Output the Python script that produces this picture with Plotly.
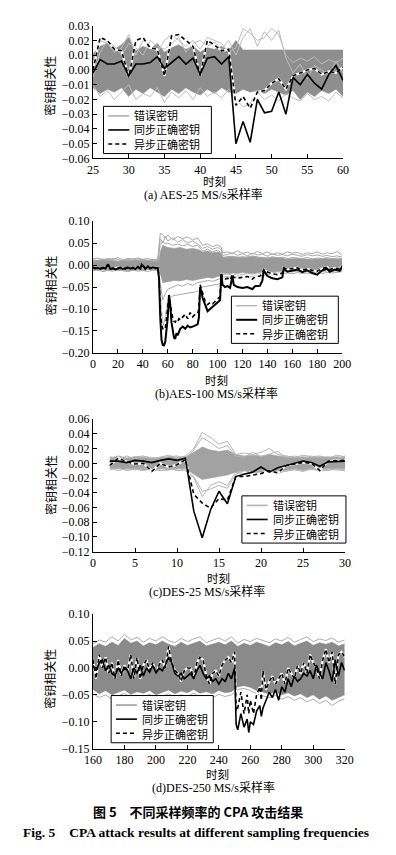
import plotly.graph_objects as go

W, H = 396, 855

# ---------------- Panel (a) AES-25 MS/s ----------------
a_time = [25, 26, 27, 28, 29, 30, 31, 32, 33, 34, 35, 36, 37, 38, 39, 40, 41, 42,
          43, 44, 45, 46, 47, 48, 49, 50, 51, 52, 53, 54, 55, 56, 57, 58, 59, 60]
a_sync = [-0.002, 0.007, 0.004, 0.004, 0.006, -0.004, 0.004, 0.004, 0.005, 0.009,
          0.001, 0.005, 0.009, 0.004, 0.008, -0.003, 0.008, 0.009, 0.004, 0.009,
          -0.050, -0.035, -0.049, -0.020, -0.029, -0.028, -0.015, -0.030, -0.005,
          -0.010, -0.003, -0.009, -0.013, -0.003, 0.003, -0.007]
a_async = [0.000, 0.022, 0.020, 0.014, 0.013, -0.005, 0.020, 0.022, 0.015, 0.014,
           -0.004, 0.023, 0.024, 0.020, 0.016, -0.004, 0.020, 0.017, 0.013, 0.014,
           -0.024, -0.018, -0.026, -0.015, -0.014, -0.009, -0.006, -0.013, -0.004,
           -0.002, 0.000, 0.001, -0.003, -0.001, -0.002, 0.002]
a_wrong_hi = [0.011, 0.016, 0.018, 0.014, 0.017, 0.022, 0.013, 0.016, 0.014, 0.018,
              0.012, 0.015, 0.017, 0.014, 0.016, 0.012, 0.015, 0.014, 0.016, 0.013,
              0.020, 0.0135, 0.0135, 0.0135, 0.0135, 0.0135, 0.0135, 0.0135, 0.0135,
              0.0135, 0.0135, 0.0135, 0.0135, 0.0135, 0.0135, 0.0135]
a_wrong_lo = [-0.012, -0.016, -0.013, -0.015, -0.012, -0.018, -0.013, -0.016, -0.012,
              -0.015, -0.018, -0.013, -0.016, -0.012, -0.015, -0.017, -0.013, -0.016,
              -0.012, -0.015, -0.016, -0.013, -0.015, -0.014, -0.016, -0.013, -0.015,
              -0.017, -0.014, -0.020, -0.015, -0.018, -0.014, -0.016, -0.013, -0.018]
a_wrong_1 = [0.005, 0.020, 0.018, 0.012, 0.015, 0.024, 0.010, 0.020, 0.016, 0.012,
             0.020, 0.024, 0.020, 0.016, 0.020, 0.014, 0.022, 0.020, 0.018, 0.012,
             0.015, 0.028, 0.025, 0.020, 0.022, 0.028, 0.024, 0.010, 0.005, 0.008,
             0.006, 0.009, 0.004, 0.007, 0.005, 0.008]
a_wrong_2 = [-0.005, 0.012, 0.020, 0.016, 0.010, 0.018, 0.015, 0.010, 0.020, 0.016,
             0.014, 0.018, 0.022, 0.012, 0.018, 0.020, 0.016, 0.019, 0.014, 0.020,
             0.010, 0.022, 0.028, 0.016, 0.026, 0.020, 0.027, 0.008, -0.002, 0.004,
             -0.006, 0.003, 0.000, -0.004, 0.006, -0.002]
a_wrong_3 = [-0.010, -0.018, -0.014, -0.020, -0.015, -0.010, -0.020, -0.016, -0.018,
             -0.012, -0.022, -0.015, -0.019, -0.014, -0.020, -0.012, -0.018, -0.015,
             -0.019, -0.013, -0.020, -0.025, -0.023, -0.015, -0.020, -0.017, -0.021,
             -0.016, -0.019, -0.021, -0.016, -0.020, -0.018, -0.021, -0.015, -0.019]

# ---------------- Panel (b) AES-100 MS/s ----------------
b_time = [0, 2, 4, 6, 8, 10, 12, 14, 16, 18, 20, 22, 24, 26, 28, 30, 32, 34, 36, 38,
          39, 41, 42, 44, 46, 48, 50, 52, 53, 54, 55, 56, 57, 58, 59, 60, 61, 62, 63,
          64, 65, 66, 67, 68, 69, 70, 72, 74, 76, 78, 80, 82, 84, 85, 86, 87, 88, 90,
          92, 94, 96, 98, 100, 102, 103, 104, 106, 108, 110, 112, 113, 116, 120, 124,
          128, 130, 134, 136, 137, 140, 144, 148, 152, 153, 156, 160, 164, 168, 172,
          176, 180, 184, 188, 190, 194, 198, 200]
b_sync = [-0.006, -0.008, -0.007, -0.009, -0.006, -0.008, 0.002, -0.009, -0.007, -0.010,
          -0.008, -0.006, -0.009, -0.007, -0.005, -0.008, -0.006, -0.009, -0.004, -0.008,
          0.001, -0.004, -0.009, -0.003, -0.008, -0.005, -0.007, -0.006, -0.030, -0.120,
          -0.170, -0.182, -0.183, -0.175, -0.150, -0.120, -0.068, -0.090, -0.130,
          -0.150, -0.165, -0.168, -0.155, -0.160, -0.150, -0.145, -0.140, -0.145, -0.138,
          -0.142, -0.140, -0.138, -0.135, -0.120, -0.050, -0.060, -0.075, -0.090,
          -0.105, -0.100, -0.095, -0.092, -0.085, -0.080, -0.020, -0.045, -0.050, -0.048,
          -0.052, -0.025, -0.045, -0.050, -0.052, -0.050, -0.055, -0.048, -0.047, -0.035,
          -0.012, -0.025, -0.030, -0.032, -0.028, -0.008, -0.015, -0.012, -0.010, -0.016,
          -0.012, -0.018, -0.022, -0.012, -0.008, -0.015, -0.010, -0.013, -0.003]
b_async = [-0.005, -0.007, -0.008, -0.007, -0.008, -0.006, 0.000, -0.008, -0.009, -0.007,
           -0.006, -0.008, -0.007, -0.009, -0.006, -0.007, -0.008, -0.006, -0.005, -0.007,
           0.000, -0.005, -0.008, -0.004, -0.007, -0.006, -0.008, -0.005, -0.025, -0.100,
           -0.135, -0.145, -0.147, -0.145, -0.125, -0.095, -0.072, -0.085, -0.105,
           -0.120, -0.128, -0.130, -0.125, -0.128, -0.122, -0.125, -0.118, -0.112, -0.122,
           -0.108, -0.118, -0.112, -0.110, -0.100, -0.045, -0.055, -0.068, -0.082,
           -0.090, -0.085, -0.088, -0.082, -0.078, -0.072, -0.018, -0.030, -0.032, -0.030,
           -0.034, -0.020, -0.028, -0.030, -0.028, -0.026, -0.032, -0.027, -0.025, -0.020,
           -0.010, -0.016, -0.020, -0.022, -0.018, -0.006, -0.010, -0.008, -0.006, -0.011,
           -0.009, -0.012, -0.014, -0.008, -0.005, -0.010, -0.007, -0.009, -0.002]
b_band_time = [0, 10, 20, 30, 40, 50, 53, 54, 56, 60, 65, 70, 75, 80, 85, 88, 92, 96,
               100, 103, 104, 110, 120, 130, 136, 137, 145, 153, 154, 165, 175, 185, 195, 200]
b_wrong_hi = [0.010, 0.012, 0.009, 0.011, 0.012, 0.010, 0.012, 0.030, 0.045, 0.040,
              0.038, 0.040, 0.036, 0.038, 0.035, 0.030, 0.032, 0.028, 0.030, 0.028,
              0.018, 0.020, 0.018, 0.020, 0.018, 0.016, 0.018, 0.016, 0.014, 0.015,
              0.013, 0.015, 0.014, 0.013]
b_wrong_lo = [-0.010, -0.012, -0.011, -0.013, -0.010, -0.012, -0.011, -0.020, -0.040,
              -0.038, -0.035, -0.036, -0.033, -0.035, -0.032, -0.030, -0.028, -0.030,
              -0.026, -0.025, -0.018, -0.020, -0.017, -0.019, -0.016, -0.015, -0.016,
              -0.014, -0.013, -0.014, -0.013, -0.014, -0.012, -0.013]
b_line_time = [0, 4, 8, 12, 16, 20, 24, 28, 32, 36, 40, 44, 48, 52, 54, 56, 58, 60, 64,
               68, 72, 76, 80, 84, 88, 92, 96, 100, 103, 104, 108, 112, 116, 120, 124,
               128, 132, 136, 140, 144, 148, 152, 156, 160, 164, 168, 172, 176, 180,
               184, 188, 192, 196, 200]
b_wrong_1 = [0.014, 0.016, 0.012, 0.015, 0.013, 0.017, 0.012, 0.015, 0.014, 0.016,
             0.013, 0.015, 0.012, 0.014, 0.072, 0.070, 0.062, 0.068, 0.058, 0.065,
             0.060, 0.064, 0.057, 0.062, 0.045, 0.048, 0.042, 0.046, 0.040, 0.028,
             0.030, 0.026, 0.032, 0.027, 0.029, 0.025, 0.031, 0.026, 0.030, 0.024,
             0.028, 0.025, 0.030, 0.027, 0.029, 0.024, 0.028, 0.026, 0.030, 0.025,
             0.028, 0.026, 0.031, 0.022]
b_wrong_2 = [0.012, 0.010, 0.014, 0.011, 0.015, 0.012, 0.010, 0.013, 0.011, 0.014,
             0.012, 0.010, 0.013, 0.011, 0.060, 0.050, 0.066, 0.055, 0.062, 0.052,
             0.058, 0.050, 0.055, 0.048, 0.038, 0.042, 0.036, 0.040, 0.035, 0.022,
             0.024, 0.028, 0.022, 0.026, 0.021, 0.027, 0.023, 0.025, 0.020, 0.026,
             0.022, 0.024, 0.021, 0.025, 0.022, 0.020, 0.024, 0.021, 0.023, 0.020,
             0.022, 0.019, 0.021, 0.018]
b_wrong_3 = [-0.013, -0.011, -0.015, -0.012, -0.014, -0.010, -0.013, -0.015, -0.011,
             -0.014, -0.012, -0.015, -0.011, -0.013, -0.060, -0.140, -0.120, -0.080,
             -0.070, -0.068, -0.066, -0.064, -0.062, -0.060, -0.050, -0.048, -0.046,
             -0.045, -0.042, -0.028, -0.026, -0.030, -0.024, -0.028, -0.025, -0.027,
             -0.023, -0.026, -0.020, -0.022, -0.019, -0.021, -0.018, -0.020, -0.017,
             -0.019, -0.018, -0.020, -0.016, -0.019, -0.017, -0.018, -0.016, -0.015]
b_wrong_4 = [-0.008, -0.012, -0.009, -0.011, -0.010, -0.013, -0.009, -0.011, -0.012,
             -0.010, -0.013, -0.009, -0.011, -0.010, -0.040, -0.080, -0.065, -0.055,
             -0.050, -0.045, -0.048, -0.042, -0.046, -0.040, -0.038, -0.035, -0.037,
             -0.033, -0.030, -0.022, -0.020, -0.023, -0.019, -0.022, -0.018, -0.021,
             -0.017, -0.020, -0.016, -0.018, -0.015, -0.017, -0.014, -0.016, -0.013,
             -0.015, -0.014, -0.016, -0.013, -0.015, -0.012, -0.014, -0.013, -0.012]
b_wrong_5 = [0.008, 0.011, 0.009, 0.012, 0.010, 0.008, 0.011, 0.009, 0.012, 0.010,
             0.009, 0.011, 0.008, 0.010, 0.045, 0.055, 0.048, 0.050, 0.045, 0.048,
             0.044, 0.047, 0.042, 0.045, 0.032, 0.036, 0.030, 0.034, 0.028, 0.016,
             0.018, 0.020, 0.016, 0.019, 0.017, 0.021, 0.016, 0.018, 0.015, 0.019,
             0.016, 0.018, 0.015, 0.017, 0.016, 0.015, 0.017, 0.014, 0.016, 0.015,
             0.017, 0.014, 0.016, 0.015]

# ---------------- Panel (c) DES-25 MS/s ----------------
c_time = [2, 3, 4, 5, 6, 7, 8, 9, 10, 11, 12, 13, 14, 15, 16, 17, 18, 19, 20, 21,
          22, 23, 24, 25, 26, 27, 28, 29, 30]
c_sync = [0.003, 0.003, 0.001, 0.004, 0.003, 0.001, 0.004, 0.006, 0.004, 0.007,
          -0.065, -0.101, -0.063, -0.038, -0.055, -0.018, -0.015, -0.012, -0.005,
          -0.012, -0.006, -0.003, 0.000, 0.003, 0.001, -0.004, 0.002, 0.002, 0.003]
c_async = [-0.003, 0.007, 0.002, -0.001, 0.000, -0.011, 0.000, -0.005, -0.002, 0.005,
           -0.042, -0.054, -0.061, -0.048, -0.050, -0.018, -0.018, -0.016, -0.014,
           -0.010, -0.013, -0.003, -0.001, 0.001, 0.000, -0.010, 0.003, 0.004, 0.004]
c_wrong_hi = [0.008, 0.009, 0.007, 0.009, 0.008, 0.007, 0.008, 0.009, 0.008, 0.009,
              0.015, 0.022, 0.018, 0.016, 0.018, 0.012, 0.010, 0.011, 0.010, 0.012,
              0.010, 0.009, 0.008, 0.009, 0.008, 0.009, 0.008, 0.009, 0.008]
c_wrong_lo = [-0.007, -0.008, -0.008, -0.007, -0.009, -0.008, -0.007, -0.009, -0.008,
              -0.007, -0.015, -0.022, -0.020, -0.018, -0.016, -0.012, -0.010, -0.011,
              -0.012, -0.010, -0.011, -0.009, -0.008, -0.009, -0.008, -0.009, -0.007,
              -0.008, -0.007]
c_wrong_1 = [0.006, 0.010, 0.007, 0.008, 0.010, 0.006, 0.009, 0.011, 0.007, 0.010,
             0.020, 0.042, 0.035, 0.026, 0.030, 0.012, 0.014, 0.012, 0.015, 0.020,
             0.012, 0.010, 0.008, 0.011, 0.009, 0.010, 0.007, 0.011, 0.009]
c_wrong_2 = [0.009, 0.005, 0.010, 0.006, 0.009, 0.008, 0.005, 0.009, 0.010, 0.006,
             0.018, 0.035, 0.028, 0.020, 0.024, 0.010, 0.008, 0.015, 0.009, 0.013,
             0.016, 0.007, 0.010, 0.006, 0.010, 0.007, 0.009, 0.006, 0.010]
c_wrong_3 = [-0.006, -0.010, -0.007, -0.009, -0.006, -0.011, -0.008, -0.006, -0.010,
             -0.009, -0.020, -0.045, -0.030, -0.025, -0.030, -0.012, -0.014, -0.012,
             -0.013, -0.011, -0.014, -0.010, -0.009, -0.011, -0.008, -0.010, -0.008,
             -0.009, -0.010]
c_wrong_4 = [-0.009, -0.006, -0.010, -0.008, -0.010, -0.007, -0.010, -0.009, -0.006,
             -0.010, -0.018, -0.038, -0.035, -0.030, -0.034, -0.015, -0.010, -0.013,
             -0.009, -0.012, -0.009, -0.011, -0.007, -0.010, -0.006, -0.009, -0.010,
             -0.007, -0.009]

# ---------------- Panel (d) DES-250 MS/s ----------------
d_time = [160, 162, 164, 166, 168, 170, 172, 174, 176, 178, 180, 182, 184, 186, 188,
          190, 192, 194, 196, 198, 200, 202, 204, 206, 208, 210, 212, 214, 216, 218,
          220, 222, 224, 226, 228, 230, 232, 234, 236, 238, 240, 242, 244, 246, 248,
          250, 251, 252, 254, 256, 258, 259, 260, 262, 264, 266, 267, 268, 270, 272,
          274, 276, 278, 280, 282, 284, 286, 288, 290, 292, 294, 296, 298, 300, 302,
          304, 306, 308, 310, 312, 314, 316, 318, 320]
d_sync = [0.005, -0.005, 0.010, 0.015, -0.005, 0.005, -0.010, -0.015, 0.000, -0.010,
          0.000, -0.005, -0.020, 0.000, -0.010, 0.005, -0.015, 0.000, -0.008, 0.005,
          -0.010, 0.000, -0.005, 0.005, 0.020, 0.010, -0.010, -0.015, -0.010, -0.020,
          -0.015, -0.010, -0.020, -0.005, 0.005, -0.010, -0.020, -0.015, -0.025, -0.020,
          -0.030, -0.020, -0.025, -0.010, -0.020, 0.000, -0.105, -0.115, -0.085, -0.110,
          -0.095, -0.120, -0.100, -0.105, -0.080, -0.070, -0.090, -0.075, -0.060, -0.045,
          -0.055, -0.040, -0.060, -0.035, -0.045, -0.020, -0.035, -0.015, -0.025, -0.020,
          -0.010, -0.015, -0.005, -0.020, 0.005, -0.010, -0.020, 0.010, -0.005, -0.025,
          0.015, -0.015, 0.010, -0.005]
d_async = [0.015, -0.020, 0.025, 0.000, 0.020, -0.010, 0.010, -0.020, 0.015, -0.015,
           0.005, -0.005, 0.025, -0.020, 0.020, -0.020, 0.005, 0.015, -0.005, 0.010,
           -0.010, 0.005, 0.015, 0.000, 0.040, 0.010, -0.005, -0.010, -0.025, -0.005,
           0.000, 0.000, -0.020, 0.010, 0.020, 0.015, -0.015, -0.030, -0.010, -0.005,
           -0.015, 0.005, 0.015, 0.020, 0.010, 0.030, -0.080, -0.075, -0.045, -0.085,
           -0.050, -0.085, -0.060, -0.085, -0.050, -0.035, -0.060, -0.005, -0.040, -0.025,
           -0.015, -0.030, -0.020, -0.010, -0.030, 0.000, -0.010, -0.020, 0.005, -0.010,
           0.010, -0.010, 0.025, 0.010, 0.000, -0.020, 0.015, 0.035, 0.010, 0.030,
           -0.030, 0.025, 0.030, 0.020]
d_band_time = [160, 164, 168, 172, 176, 180, 184, 188, 192, 196, 200, 204, 208, 212,
               216, 220, 224, 228, 232, 236, 240, 244, 248, 252, 256, 260, 264, 268,
               272, 276, 280, 284, 288, 292, 296, 300, 304, 308, 312, 316, 320]
d_wrong_hi = [0.038, 0.045, 0.040, 0.048, 0.042, 0.055, 0.046, 0.050, 0.041, 0.047,
              0.043, 0.050, 0.044, 0.040, 0.048, 0.042, 0.046, 0.050, 0.041, 0.045,
              0.048, 0.043, 0.050, 0.040, 0.046, 0.042, 0.048, 0.044, 0.040, 0.047,
              0.043, 0.049, 0.041, 0.046, 0.050, 0.042, 0.047, 0.044, 0.048, 0.041, 0.045]
d_wrong_lo = [-0.040, -0.048, -0.042, -0.050, -0.045, -0.041, -0.049, -0.044, -0.047,
              -0.042, -0.050, -0.045, -0.041, -0.048, -0.043, -0.046, -0.040, -0.047,
              -0.044, -0.048, -0.042, -0.046, -0.044, -0.035, -0.033, -0.036, -0.042,
              -0.045, -0.048, -0.044, -0.050, -0.046, -0.052, -0.048, -0.055, -0.050,
              -0.058, -0.052, -0.060, -0.055, -0.050]
d_wrong_1 = [0.045, 0.052, 0.048, 0.058, 0.050, 0.063, 0.052, 0.057, 0.048, 0.055,
             0.050, 0.058, 0.051, 0.047, 0.055, 0.049, 0.054, 0.058, 0.047, 0.052,
             0.056, 0.050, 0.058, 0.046, 0.053, 0.049, 0.055, 0.051, 0.047, 0.054,
             0.050, 0.057, 0.048, 0.053, 0.058, 0.049, 0.054, 0.051, 0.056, 0.048, 0.052]
d_wrong_2 = [-0.048, -0.055, -0.050, -0.058, -0.052, -0.047, -0.056, -0.051, -0.054,
             -0.049, -0.057, -0.052, -0.048, -0.055, -0.050, -0.053, -0.047, -0.054,
             -0.051, -0.055, -0.049, -0.053, -0.050, -0.040, -0.038, -0.042, -0.048,
             -0.052, -0.055, -0.051, -0.058, -0.053, -0.060, -0.055, -0.063, -0.058,
             -0.066, -0.060, -0.070, -0.062, -0.057]

# ---------------- text ----------------
names = ["错误密钥", "同步正确密钥", "异步正确密钥"]
y_title = "密钥相关性"
x_title = "时刻"
captions = ["(a) AES-25 MS/s采样率", "(b)AES-100 MS/s采样率",
            "(c)DES-25 MS/s采样率", "(d)DES-250 MS/s采样率"]
fig_cn = "图 5　不同采样频率的 CPA 攻击结果"
fig_en = "Fig. 5　CPA attack results at different sampling frequencies"

# ---------------- layout geometry (pixels) ----------------
panels = [
    dict(x0=88, x1=350, y0=19, y1=154, xr=[25, 60], xd=5, yr=[-0.06, 0.03], yd=0.01,
         band="#8e8e8e", line="#bcbcbc", lw=1.0, sw=1.6, lgw=2.0,
         leg=(99, 101, 113, 48), ytc=80, xtc=215, xty=177, cpx=204, cpy=191),
    dict(x0=88, x1=349, y0=217.7, y1=351.7, xr=[0, 200], xd=20, yr=[-0.20, 0.10], yd=0.05,
         band="#9a9a9a", line="#a9a9a9", lw=1.0, sw=2.0, lgw=1.2,
         leg=(233, 294, 112, 48), ytc=283, xtc=217, xty=379, cpx=217, cpy=393),
    dict(x0=88, x1=352, y0=419, y1=553.7, xr=[0, 30], xd=5, yr=[-0.12, 0.06], yd=0.02,
         band="#a2a2a2", line="#b4b4b4", lw=1.0, sw=1.6, lgw=1.6,
         leg=(244, 497, 109, 48), ytc=486, xtc=219, xty=580, cpx=207, cpy=594),
    dict(x0=88, x1=351.7, y0=617.3, y1=754, xr=[160, 320], xd=20, yr=[-0.15, 0.10], yd=0.05,
         band="#8a8a8a", line="#ababab", lw=1.0, sw=1.6, lgw=1.8,
         leg=(107, 700, 107, 48), ytc=683, xtc=218, xty=780, cpx=214, cpy=794),
]

data_sets = [
    (a_time, a_sync, a_async, a_time, a_wrong_hi, a_wrong_lo, a_time, [a_wrong_1, a_wrong_2, a_wrong_3]),
    (b_time, b_sync, b_async, b_band_time, b_wrong_hi, b_wrong_lo, b_line_time,
     [b_wrong_1, b_wrong_2, b_wrong_3, b_wrong_4, b_wrong_5]),
    (c_time, c_sync, c_async, c_time, c_wrong_hi, c_wrong_lo, c_time,
     [c_wrong_1, c_wrong_2, c_wrong_3, c_wrong_4]),
    (d_time, d_sync, d_async, d_band_time, d_wrong_hi, d_wrong_lo, d_band_time,
     [d_wrong_1, d_wrong_2]),
]

DASH = "4px,3px"
LEG_FONT = 11
LEG_STEP = LEG_FONT * 1.3
fig = go.Figure()
layout = dict(width=W, height=H, margin=dict(l=0, r=0, t=0, b=0),
              paper_bgcolor="white", plot_bgcolor="white", showlegend=False)
annotations = []
shapes = []
tickfont = dict(family="Liberation Serif, Times New Roman, serif", size=12, color="black")
cjk = "Noto Sans CJK SC"


def px(x):
    return x / W


def py(y):
    return 1 - y / H


for i, (p, ds) in enumerate(zip(panels, data_sets)):
    t, sync, asyn, bt, hi, lo, lt, lines = ds
    assert len(t) == len(sync) == len(asyn)
    assert len(bt) == len(hi) == len(lo)
    for ln in lines:
        assert len(ln) == len(lt)
    sfx = "" if i == 0 else str(i + 1)
    xa, ya = "x" + sfx, "y" + sfx
    # wrong-key band
    fig.add_trace(go.Scatter(x=bt, y=lo, mode="lines", line=dict(width=0.6, color=p["band"]),
                             xaxis=xa, yaxis=ya, hoverinfo="skip"))
    fig.add_trace(go.Scatter(x=bt, y=hi, mode="lines", line=dict(width=0.6, color=p["band"]),
                             fill="tonexty", fillcolor=p["band"],
                             xaxis=xa, yaxis=ya, hoverinfo="skip"))
    for k, ln in enumerate(lines):
        fig.add_trace(go.Scatter(x=lt, y=ln, mode="lines", name=names[0],
                                 line=dict(width=p["lw"], color=p["line"]),
                                 xaxis=xa, yaxis=ya))
    # white underlay for dashed line
    fig.add_trace(go.Scatter(x=t, y=asyn, mode="lines", line=dict(width=2.2, color="white"),
                             xaxis=xa, yaxis=ya, hoverinfo="skip"))
    fig.add_trace(go.Scatter(x=t, y=sync, mode="lines", name=names[1],
                             line=dict(width=p["sw"], color="black"),
                             xaxis=xa, yaxis=ya))
    fig.add_trace(go.Scatter(x=t, y=asyn, mode="lines", name=names[2],
                             line=dict(width=1.6, color="black", dash=DASH),
                             xaxis=xa, yaxis=ya))

    layout["xaxis" + sfx] = dict(domain=[px(p["x0"]), px(p["x1"])], range=p["xr"],
                                 tick0=p["xr"][0], dtick=p["xd"], anchor=ya,
                                 showline=True, linecolor="black", linewidth=1,
                                 ticks="inside", ticklen=4, tickcolor="black",
                                 showgrid=False, zeroline=False, tickfont=tickfont)
    layout["yaxis" + sfx] = dict(domain=[py(p["y1"]), py(p["y0"])], range=p["yr"],
                                 tick0=p["yr"][0], dtick=p["yd"], tickformat=".2f", anchor=xa,
                                 showline=True, linecolor="black", linewidth=1,
                                 ticks="inside", ticklen=4, tickcolor="black",
                                 showgrid=False, zeroline=False, tickfont=tickfont)

    # legend box (drawn as layout decoration)
    L, T, BW, BH = p["leg"]
    shapes.append(dict(type="rect", xref="paper", yref="paper", layer="above",
                       x0=px(L), x1=px(L + BW), y0=py(T + BH), y1=py(T),
                       fillcolor="white", line=dict(color="black", width=1)))
    mid = T + BH / 2
    rows = [mid - LEG_STEP, mid, mid + LEG_STEP]
    styles = [dict(color=p["line"], width=p["lgw"]),
              dict(color="black", width=p["sw"]),
              dict(color="black", width=1.5, dash=DASH)]
    for r, st in zip(rows, styles):
        shapes.append(dict(type="line", xref="paper", yref="paper", layer="above",
                           x0=px(L + 5), x1=px(L + 27), y0=py(r), y1=py(r), line=st))
    annotations.append(dict(text="<br>".join(names), x=px(L + 31), y=py(mid), xref="paper",
                            yref="paper", showarrow=False, xanchor="left", yanchor="middle",
                            align="left", borderpad=0,
                            font=dict(family=cjk, size=LEG_FONT, color="black")))

    annotations.append(dict(text=y_title, x=px(43), y=py(p["ytc"]), xref="paper", yref="paper",
                            textangle=-90, showarrow=False, xanchor="center", yanchor="middle",
                            borderpad=0, font=dict(family=cjk, size=12, color="black")))
    annotations.append(dict(text=x_title, x=px(p["xtc"]), y=py(p["xty"]), xref="paper",
                            yref="paper", showarrow=False, xanchor="center", yanchor="middle",
                            borderpad=0, font=dict(family=cjk, size=11.5, color="black")))
    annotations.append(dict(text=captions[i], x=px(p["cpx"]), y=py(p["cpy"]), xref="paper",
                            yref="paper", showarrow=False, xanchor="center", yanchor="middle",
                            borderpad=0,
                            font=dict(family="Liberation Serif, " + cjk, size=12, color="black")))

annotations.append(dict(text="<b>" + fig_cn + "</b>", x=px(198), y=py(818), xref="paper",
                        yref="paper", showarrow=False, xanchor="center", yanchor="middle",
                        borderpad=0, font=dict(family=cjk, size=13, color="black")))
annotations.append(dict(text="<b>" + fig_en + "</b>", x=px(196), y=py(839), xref="paper",
                        yref="paper", showarrow=False, xanchor="center", yanchor="middle",
                        borderpad=0, font=dict(family="Liberation Serif, serif", size=13.5, color="black")))
layout["annotations"] = annotations
layout["shapes"] = shapes
fig.update_layout(**layout)
fig.write_html("out.html", config={"displayModeBar": False},
               post_script="document.body.style.margin='0px';")
